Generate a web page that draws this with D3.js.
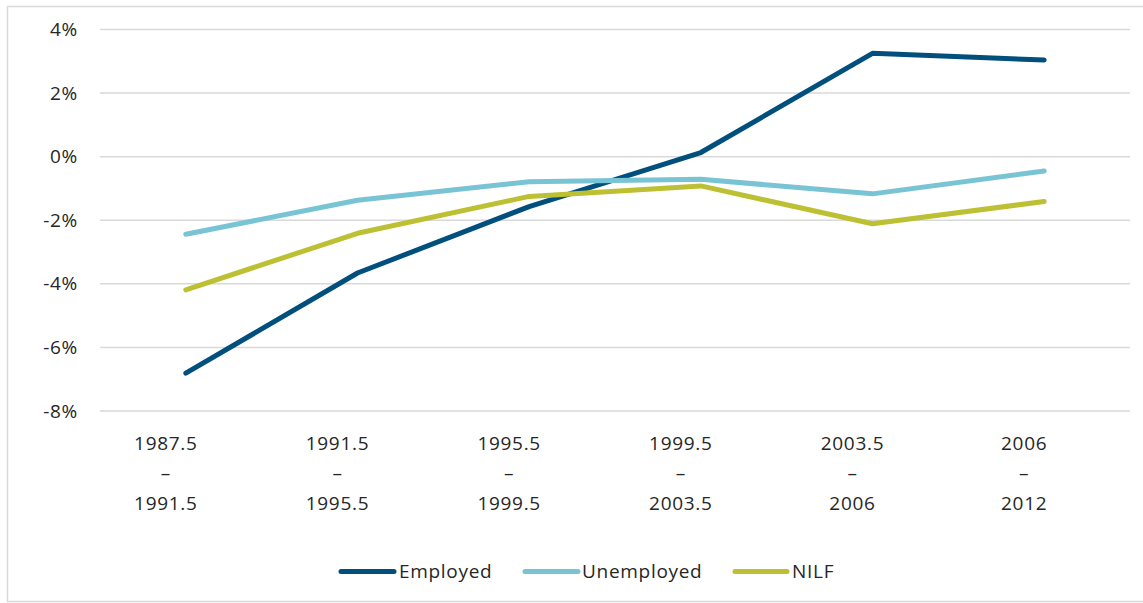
<!DOCTYPE html>
<html>
<head>
<meta charset="utf-8">
<script src="https://cdn.jsdelivr.net/npm/d3@7"></script>
<style>
  html, body { margin: 0; padding: 0; background: #ffffff; }
  svg { display: block; }
  text { font-family: "Open Sans", "Noto Sans", sans-serif; fill: #262626; letter-spacing: 0.7px; }
</style>
</head>
<body>
<svg id="chart" width="1143" height="603"></svg>
<script>
const categories = [
  ["1987.5", "–", "1991.5"],
  ["1991.5", "–", "1995.5"],
  ["1995.5", "–", "1999.5"],
  ["1999.5", "–", "2003.5"],
  ["2003.5", "–", "2006"],
  ["2006", "–", "2012"]
];
const categoryKeys = ["1987.5-1991.5", "1991.5-1995.5", "1995.5-1999.5", "1999.5-2003.5", "2003.5-2006", "2006-2012"];
const employed   = [-6.81, -3.66, -1.57, 0.13, 3.25, 3.04];
const unemployed = [-2.44, -1.37, -0.79, -0.71, -1.17, -0.45];
const nilf       = [-4.19, -2.41, -1.25, -0.92, -2.11, -1.41];
const yTicks = [4, 2, 0, -2, -4, -6, -8];
const seriesNames = ["Employed", "Unemployed", "NILF"];
const seriesColors = ["#004F7C", "#78C4D4", "#BDC033"];

const series = [
  { name: seriesNames[0], values: employed, color: seriesColors[0] },
  { name: seriesNames[1], values: unemployed, color: seriesColors[1] },
  { name: seriesNames[2], values: nilf, color: seriesColors[2] }
];

const svg = d3.select("#chart");

// outer chart border
svg.append("rect")
  .attr("x", 7.5).attr("y", 6.5)
  .attr("width", 1150).attr("height", 595)
  .attr("fill", "none").attr("stroke", "#d9d9d9").attr("stroke-width", 1.5);

const x = d3.scaleBand().domain(categoryKeys).range([100, 1130]);
const y = d3.scaleLinear().domain([-8, 4]).range([411, 29.5]);

// gridlines
svg.append("g").selectAll("line").data(yTicks).join("line")
  .attr("x1", 100).attr("x2", 1130)
  .attr("y1", d => y(d)).attr("y2", d => y(d))
  .attr("stroke", "#d9d9d9").attr("stroke-width", 1.5);

// y axis labels
const yAxis = d3.axisLeft(y).tickValues(yTicks).tickFormat(d => d + "%").tickSize(0).tickPadding(0);
const yg = svg.append("g").attr("transform", "translate(78,0)").call(yAxis);
yg.select(".domain").remove();
yg.selectAll("text")
  .style("font-family", '"Open Sans", "Noto Sans", sans-serif')
  .style("font-size", "19px").style("letter-spacing", "0.7px").attr("fill", "#262626");

// x axis labels (multi-line)
const xg = svg.append("g");
categoryKeys.forEach((k, i) => {
  const cx = x(k) + x.bandwidth() / 2 - 20;
  const t = xg.append("text")
    .attr("x", cx).attr("y", 450)
    .attr("text-anchor", "middle")
    .style("font-size", "19px");
  categories[i].forEach((line, j) => {
    t.append("tspan").attr("x", cx).attr("y", 450 + j * 30).text(line);
  });
});

// lines
const lineGen = d3.line()
  .x((d, i) => x(categoryKeys[i]) + x.bandwidth() / 2)
  .y(d => y(d));

svg.append("g").selectAll("path").data(series).join("path")
  .attr("d", d => lineGen(d.values))
  .attr("fill", "none")
  .attr("stroke", d => d.color)
  .attr("stroke-width", 5)
  .attr("stroke-linejoin", "round")
  .attr("stroke-linecap", "round");

// legend
const legendItems = [
  { x1: 341, x2: 394, tx: 399 },
  { x1: 525, x2: 578, tx: 582 },
  { x1: 735, x2: 787, tx: 792 }
];
const lg = svg.append("g");
series.forEach((s, i) => {
  const it = legendItems[i];
  lg.append("line")
    .attr("x1", it.x1).attr("x2", it.x2)
    .attr("y1", 571.5).attr("y2", 571.5)
    .attr("stroke", s.color).attr("stroke-width", 5)
    .attr("stroke-linecap", "round");
  lg.append("text")
    .attr("x", it.tx).attr("y", 578)
    .style("font-size", "19px")
    .text(s.name);
});
</script>
</body>
</html>
